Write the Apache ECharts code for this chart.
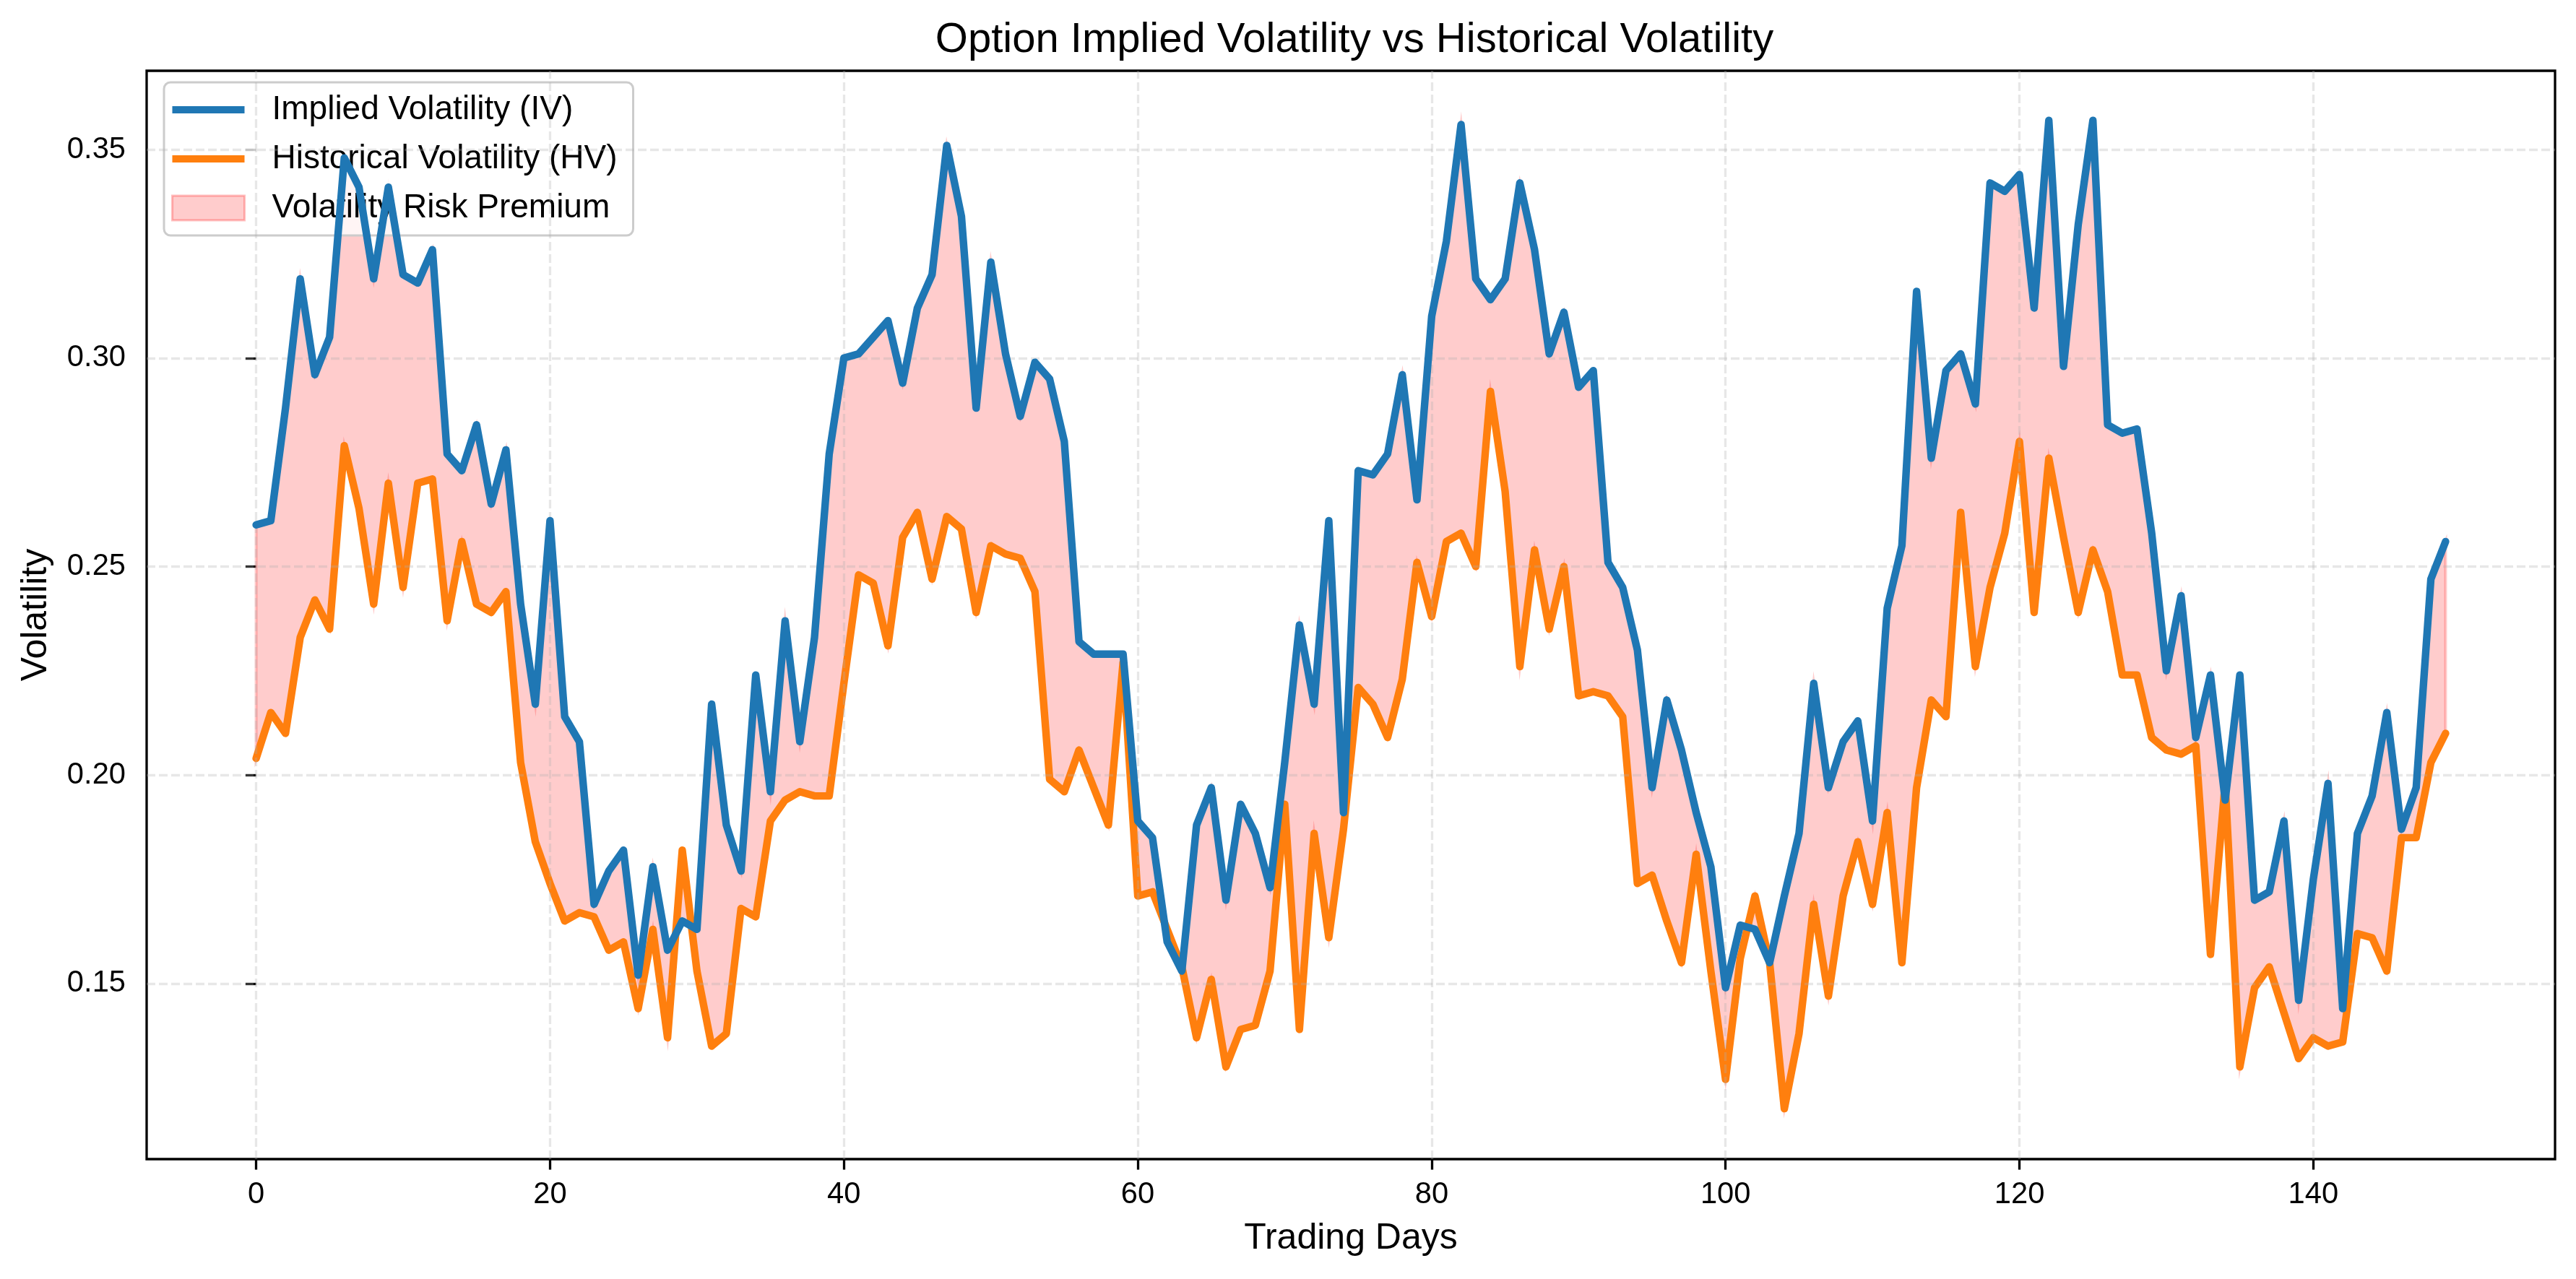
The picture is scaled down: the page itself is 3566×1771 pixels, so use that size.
<!DOCTYPE html>
<html>
<head>
<meta charset="utf-8">
<script src="https://cdn.jsdelivr.net/npm/echarts@6/dist/echarts.min.js"></script>
<style>
html,body{margin:0;padding:0;background:#fff;}
#chart{width:3566px;height:1771px;}
</style>
</head>
<body>
<div id="chart"></div>
<script>
// ---- data ----
const IV = [
0.260,0.261,0.288,0.319,0.296,0.305,0.348,0.341,0.319,0.341,
0.320,0.318,0.326,0.277,0.273,0.284,0.265,0.278,0.241,0.217,
0.261,0.214,0.208,0.169,0.177,0.182,0.152,0.178,0.158,0.165,
0.163,0.217,0.188,0.177,0.224,0.196,0.237,0.208,0.233,0.277,
0.300,0.301,0.305,0.309,0.294,0.312,0.320,0.351,0.334,0.288,
0.323,0.301,0.286,0.299,0.295,0.280,0.232,0.229,0.229,0.229,
0.189,0.185,0.160,0.153,0.188,0.197,0.170,0.193,0.186,0.173,
0.203,0.236,0.217,0.261,0.191,0.273,0.272,0.277,0.296,0.266,
0.310,0.328,0.356,0.319,0.314,0.319,0.342,0.326,0.301,0.311,
0.293,0.297,0.251,0.245,0.230,0.197,0.218,0.206,0.191,0.178,
0.149,0.164,0.163,0.155,0.171,0.186,0.222,0.197,0.208,0.213,
0.189,0.240,0.255,0.316,0.276,0.297,0.301,0.289,0.342,0.340,
0.344,0.312,0.357,0.298,0.332,0.357,0.284,0.282,0.283,0.258,
0.225,0.243,0.209,0.224,0.194,0.224,0.170,0.172,0.189,0.146,
0.175,0.198,0.144,0.186,0.195,0.215,0.187,0.197,0.247,0.256
];
const HV = [
0.204,0.215,0.210,0.233,0.242,0.235,0.279,0.264,0.241,0.270,
0.245,0.270,0.271,0.237,0.256,0.241,0.239,0.244,0.203,0.184,
0.174,0.165,0.167,0.166,0.158,0.160,0.144,0.163,0.137,0.182,
0.153,0.135,0.138,0.168,0.166,0.189,0.194,0.196,0.195,0.195,
0.222,0.248,0.246,0.231,0.257,0.263,0.247,0.262,0.259,0.239,
0.255,0.253,0.252,0.244,0.199,0.196,0.206,0.197,0.188,0.227,
0.171,0.172,0.163,0.154,0.137,0.151,0.130,0.139,0.140,0.153,
0.193,0.139,0.186,0.161,0.187,0.221,0.217,0.209,0.223,0.251,
0.238,0.256,0.258,0.250,0.292,0.268,0.226,0.254,0.235,0.250,
0.219,0.220,0.219,0.214,0.174,0.176,0.165,0.155,0.181,0.153,
0.127,0.156,0.171,0.155,0.120,0.138,0.169,0.147,0.171,0.184,
0.169,0.191,0.155,0.197,0.218,0.214,0.263,0.226,0.245,0.258,
0.280,0.239,0.276,0.257,0.239,0.254,0.244,0.224,0.224,0.209,
0.206,0.205,0.207,0.157,0.198,0.130,0.149,0.154,0.143,0.132,
0.137,0.135,0.136,0.162,0.161,0.153,0.185,0.185,0.203,0.210
];
const DAYS = IV.map((_, i) => i);
const X_TICKS = [0, 20, 40, 60, 80, 100, 120, 140];
const Y_TICKS = [0.15, 0.20, 0.25, 0.30, 0.35];
const TITLE = 'Option Implied Volatility vs Historical Volatility';
const X_NAME = 'Trading Days';
const Y_NAME = 'Volatility';
const NAMES = ['Implied Volatility (IV)', 'Historical Volatility (HV)', 'Volatility Risk Premium'];

// ---- chart ----
const FONT = '"Liberation Sans", Arial, Helvetica, sans-serif';
const X_MIN = -7.45, X_MAX = 156.45;
const Y_MIN = 0.1079, Y_MAX = 0.3689;

const ivData = DAYS.map((d, i) => [d, IV[i]]);
const hvData = DAYS.map((d, i) => [d, HV[i]]);
const bandData = DAYS.map((d, i) => [d, IV[i], HV[i]]);

const chart = echarts.init(document.getElementById('chart'), null, {renderer: 'canvas'});
const gridLineStyle = {type: [12, 5], color: 'rgba(176,176,176,0.3)', width: 3.3};

function renderBand(params, api) {
  if (params.dataIndex !== 0) return null;
  const upper = [], lower = [];
  for (let i = 0; i < bandData.length; i++) {
    upper.push(api.coord([bandData[i][0], bandData[i][1]]));
    lower.push(api.coord([bandData[i][0], bandData[i][2]]));
  }
  const pts = upper.concat(lower.reverse());
  return {
    type: 'polygon',
    shape: {points: pts},
    style: {fill: 'rgba(255,0,0,0.2)', stroke: 'rgba(255,0,0,0.2)', lineWidth: 4}
  };
}

chart.setOption({
  animation: false,
  backgroundColor: '#ffffff',
  title: {
    text: TITLE,
    left: 1870,
    top: 22,
    textAlign: 'center',
    textStyle: {fontFamily: FONT, fontSize: 58, fontWeight: 'normal', color: '#000'}
  },
  grid: {
    left: 203, right: 29, top: 98, bottom: 166,
    show: true, borderColor: '#000', borderWidth: 3.3, backgroundColor: 'transparent'
  },
  legend: {
    orient: 'vertical',
    left: 227, top: 114,
    padding: [14, 22, 14, 10],
    itemWidth: 100, itemHeight: 34, itemGap: 20,
    backgroundColor: 'rgba(255,255,255,0.8)',
    borderColor: '#cccccc', borderWidth: 3, borderRadius: 9,
    textStyle: {fontFamily: FONT, fontSize: 46, color: '#000', padding: [0, 0, 0, 33], lineHeight: 48},
    data: [
      {name: NAMES[0], icon: 'path://M0,0 L10,0 L10,1 L0,1 Z', itemStyle: {color: '#1f77b4'}},
      {name: NAMES[1], icon: 'path://M0,0 L10,0 L10,1 L0,1 Z', itemStyle: {color: '#ff7f0e'}},
      {name: NAMES[2], icon: 'rect', itemStyle: {color: 'rgba(255,0,0,0.2)', borderColor: 'rgba(255,0,0,0.25)', borderWidth: 3}}
    ]
  },
  xAxis: {
    type: 'value', min: X_MIN, max: X_MAX,
    name: X_NAME, nameLocation: 'middle', nameGap: 85,
    nameTextStyle: {fontFamily: FONT, fontSize: 50, color: '#000'},
    axisLine: {show: false},
    axisTick: {show: true, inside: false, length: 14.6, lineStyle: {color: '#000', width: 3.3}, customValues: X_TICKS},
    axisLabel: {customValues: X_TICKS, fontFamily: FONT, fontSize: 41.7, color: '#000', margin: 29,
      formatter: v => String(v)},
    splitLine: {show: false}
  },
  yAxis: {
    type: 'value', min: Y_MIN, max: Y_MAX,
    name: Y_NAME, nameLocation: 'middle', nameGap: 128, nameRotate: 90,
    nameTextStyle: {fontFamily: FONT, fontSize: 50, color: '#000'},
    axisLine: {show: false},
    axisTick: {show: true, inside: false, length: 14.6, lineStyle: {color: '#000', width: 3.3}, customValues: Y_TICKS},
    axisLabel: {customValues: Y_TICKS, fontFamily: FONT, fontSize: 41.7, color: '#000', margin: 29,
      formatter: v => v.toFixed(2)},
    splitLine: {show: false}
  },
  series: [
    {
      name: NAMES[2], type: 'custom', data: bandData, renderItem: renderBand,
      encode: {x: 0, y: [1, 2]}, z: 1, silent: true,
      itemStyle: {color: 'rgba(255,0,0,0.2)'},
      clip: true
    },
    {
      name: 'grid', type: 'line', data: [], z: 2, silent: true,
      markLine: {
        silent: true, symbol: ['none', 'none'], label: {show: false}, animation: false,
        lineStyle: gridLineStyle,
        emphasis: {disabled: true},
        data: X_TICKS.map(v => ({xAxis: v})).concat(Y_TICKS.map(v => ({yAxis: v})))
      }
    },
    {
      name: NAMES[1], type: 'line', data: hvData,
      symbol: 'none', z: 4,
      lineStyle: {color: '#ff7f0e', width: 10.4, join: 'round', cap: 'round'},
      itemStyle: {color: '#ff7f0e'}
    },
    {
      name: NAMES[0], type: 'line', data: ivData,
      symbol: 'none', z: 5,
      lineStyle: {color: '#1f77b4', width: 10.4, join: 'round', cap: 'round'},
      itemStyle: {color: '#1f77b4'}
    }
  ]
});
</script>
</body>
</html>
